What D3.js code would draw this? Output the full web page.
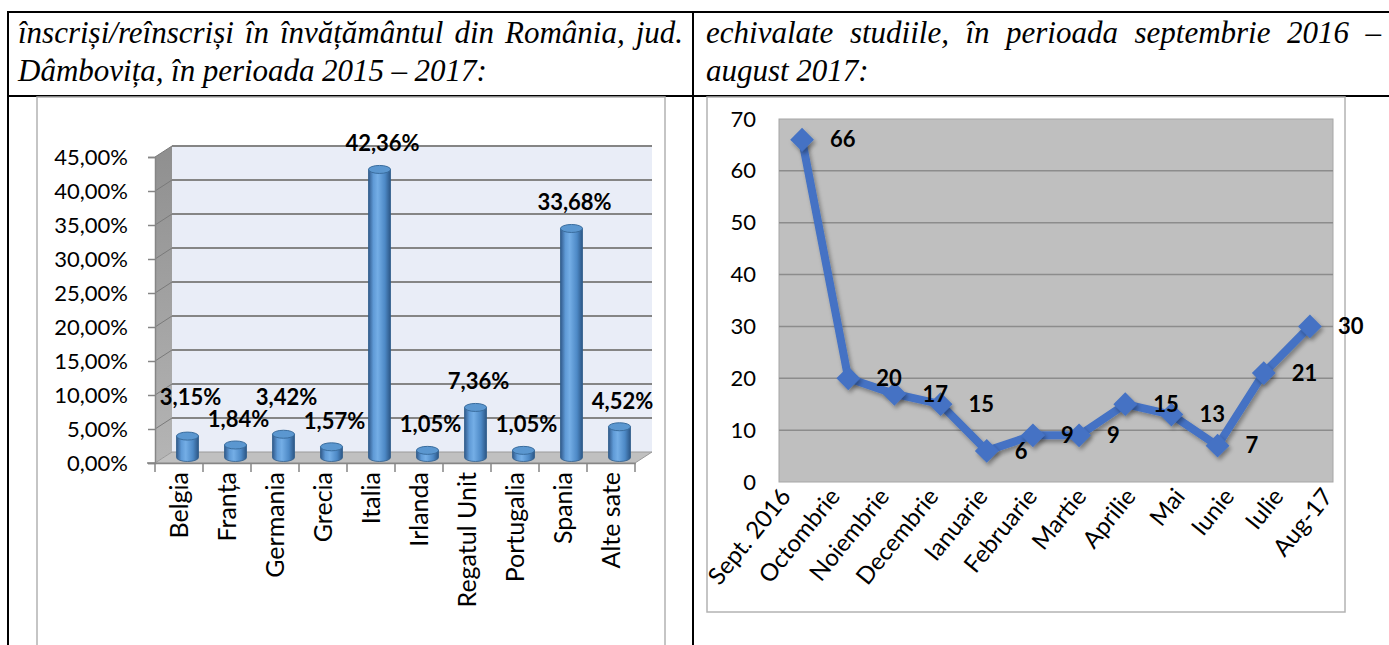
<!DOCTYPE html>
<html>
<head>
<meta charset="utf-8">
<script src="https://cdn.jsdelivr.net/npm/d3@7"></script>
<style>
  body { margin: 0; background: #fff; }
  svg { display: block; }
</style>
</head>
<body>
<svg id="page" width="1389" height="645"></svg>
<script>
// header text of the two table cells (line by line)
let headerLeft = ["înscriși/reînscriși în învățământul din România, jud.", "Dâmbovița, în perioada 2015 – 2017:"];
let headerRight = ["echivalate studiile, în perioada septembrie 2016 –", "august 2017:"];

// left chart: share by country
let countries = ["Belgia", "Franța", "Germania", "Grecia", "Italia", "Irlanda", "Regatul Unit", "Portugalia", "Spania", "Alte sate"];
let shares = [3.15, 1.84, 3.42, 1.57, 42.36, 1.05, 7.36, 1.05, 33.68, 4.52];
let shareTicks = [0, 5, 10, 15, 20, 25, 30, 35, 40, 45];

// right chart: counts by month
let months = ["Sept. 2016", "Octombrie", "Noiembrie", "Decembrie", "Ianuarie", "Februarie", "Martie", "Aprilie", "Mai", "Iunie", "Iulie", "Aug-17"];
let counts = [66, 20, 17, 15, 6, 9, 9, 15, 13, 7, 21, 30];
let countTicks = [0, 10, 20, 30, 40, 50, 60, 70];

let ro = d3.formatLocale({decimal: ",", thousands: ".", grouping: [3], currency: ["", " lei"]});
let pct = function(v) { return ro.format(".2f")(v) + "%"; };

let svg = d3.select("#page");
let chartFont = "Lato, 'Open Sans', sans-serif";

// ---- table borders ----
let table = svg.append("g").attr("stroke", "#000").attr("stroke-width", 2);
table.append("line").attr("x1", 7).attr("x2", 1389).attr("y1", 12).attr("y2", 12);
table.append("line").attr("x1", 7).attr("x2", 1389).attr("y1", 96).attr("y2", 96);
table.append("line").attr("x1", 8).attr("x2", 8).attr("y1", 11).attr("y2", 645);
table.append("line").attr("x1", 693).attr("x2", 693).attr("y1", 11).attr("y2", 645);

// justified header lines
function writeLine(text, x0, x1, y, justify) {
  let words = text.split(" ");
  let g = svg.append("g")
    .attr("font-family", "'Liberation Serif', 'Times New Roman', serif")
    .attr("font-style", "italic")
    .attr("font-size", 31);
  let nodes = words.map(function(w) { return g.append("text").attr("y", y).text(w); });
  let widths = nodes.map(function(n) { return n.node().getComputedTextLength(); });
  let total = d3.sum(widths);
  let gap = justify ? (x1 - x0 - total) / (words.length - 1) : 7.5;
  let x = x0;
  nodes.forEach(function(n, i) { n.attr("x", x); x += widths[i] + gap; });
}
writeLine(headerLeft[0], 18, 683, 43, true);
writeLine(headerLeft[1], 18, 683, 81, false);
writeLine(headerRight[0], 706, 1381, 43, true);
writeLine(headerRight[1], 706, 1381, 81, false);

// ---- chart frames ----
svg.append("path").attr("d", "M37,645V97H665V645").attr("fill", "none").attr("stroke", "#b3b3b3").attr("stroke-width", 1.5);
svg.append("rect").attr("x", 707).attr("y", 97).attr("width", 638).attr("height", 515)
  .attr("fill", "none").attr("stroke", "#b3b3b3").attr("stroke-width", 1.5);

let defs = svg.append("defs");
let cyl = defs.append("linearGradient").attr("id", "cyl");
[["0%", "#30598a"], ["22%", "#5f9ad6"], ["42%", "#74aee6"], ["75%", "#4d89c6"], ["100%", "#2c5685"]].forEach(function(s) {
  cyl.append("stop").attr("offset", s[0]).attr("stop-color", s[1]);
});
let sideG = defs.append("linearGradient").attr("id", "side").attr("x1", 0).attr("x2", 0).attr("y1", 0).attr("y2", 1);
sideG.append("stop").attr("offset", "0%").attr("stop-color", "#8f8f8f");
sideG.append("stop").attr("offset", "100%").attr("stop-color", "#b5b5b5");
let shadow = defs.append("filter").attr("id", "shadow").attr("x", "-50%").attr("y", "-50%").attr("width", "200%").attr("height", "200%");
shadow.append("feDropShadow").attr("dx", 2).attr("dy", 3).attr("stdDeviation", 2).attr("flood-color", "#000").attr("flood-opacity", 0.35);

// ---- left chart: 3D cylinders ----
(function() {
  let dx = 17, dy = -11;
  let x = d3.scaleBand().domain(countries).range([155, 635]);
  let y = d3.scaleLinear().domain([0, 45]).range([463, 157]);
  let g = svg.append("g");

  // back wall
  g.append("rect").attr("x", 155 + dx).attr("y", y(45) + dy).attr("width", 480).attr("height", y(0) - y(45))
    .attr("fill", "#e9edf7");
  // side wall
  g.append("path").attr("d", "M155," + y(45) + "L" + (155 + dx) + "," + (y(45) + dy) + "V" + (y(0) + dy) + "L155," + y(0) + "Z")
    .attr("fill", "url(#side)");
  // floor
  g.append("path").attr("d", "M155," + y(0) + "H635L" + (635 + dx) + "," + (y(0) + dy) + "H" + (155 + dx) + "Z")
    .attr("fill", "#c0c0c0").attr("stroke", "#9a9a9a");

  g.selectAll(".grid").data(shareTicks.slice(1)).enter().append("line")
    .attr("x1", 155 + dx).attr("x2", 635 + dx)
    .attr("y1", function(d) { return y(d) + dy; }).attr("y2", function(d) { return y(d) + dy; })
    .attr("stroke", "#858585").attr("stroke-width", 2);
  g.selectAll(".sgrid").data(shareTicks.slice(1)).enter().append("line")
    .attr("x1", 155).attr("x2", 155 + dx)
    .attr("y1", function(d) { return y(d); }).attr("y2", function(d) { return y(d) + dy; })
    .attr("stroke", "#7a7a7a").attr("stroke-width", 1);

  // axes
  let yAxis = g.append("g").attr("transform", "translate(155,0)")
    .call(d3.axisLeft(y).tickValues(shareTicks).tickFormat(pct).tickSize(7).tickPadding(20));
  let xAxis = g.append("g").attr("transform", "translate(0," + y(0) + ")")
    .call(d3.axisBottom(x).tickSize(0).tickFormat(""));
  [yAxis, xAxis].forEach(function(a) {
    a.select(".domain").attr("stroke", "#868686").attr("stroke-width", 1.5);
    a.selectAll(".tick line").attr("stroke", "#868686").attr("stroke-width", 1.5);
  });
  yAxis.selectAll("text").attr("font-family", chartFont).attr("font-size", 22).attr("fill", "#000");
  g.append("line").attr("x1", 147).attr("x2", 155).attr("y1", y(0)).attr("y2", y(0)).attr("stroke", "#868686").attr("stroke-width", 1.5);
  g.selectAll(".xt").data(countries.concat([null])).enter().append("line")
    .attr("x1", function(d, i) { return 155 + i * x.bandwidth(); })
    .attr("x2", function(d, i) { return 155 + i * x.bandwidth(); })
    .attr("y1", y(0)).attr("y2", y(0) + 9)
    .attr("stroke", "#868686").attr("stroke-width", 1.5);

  g.selectAll(".xl").data(countries).enter().append("text")
    .attr("transform", function(d) { return "translate(" + (x(d) + x.bandwidth() / 2 + 9) + "," + (y(0) + 9) + ") rotate(-90)"; })
    .attr("text-anchor", "end")
    .attr("font-family", chartFont).attr("font-size", 25)
    .text(function(d) { return d; });

  // cylinders
  let w = 22, ry = 4;
  let labels = [];
  countries.forEach(function(c, i) {
    let cx = x(c) + x.bandwidth() / 2 + dx / 2;
    let base = y(0) + dy / 2;
    let top = y(shares[i]) + dy / 2;
    let b = g.append("g");
    b.append("path")
      .attr("d", "M" + (cx - w / 2) + "," + top + "V" + base + "A" + (w / 2) + "," + ry + " 0 0 0 " + (cx + w / 2) + "," + base + "V" + top + "Z")
      .attr("fill", "url(#cyl)").attr("stroke", "#2f5d8c").attr("stroke-width", 0.8);
    b.append("ellipse").attr("cx", cx).attr("cy", top).attr("rx", w / 2).attr("ry", ry)
      .attr("fill", "#5b97d0").attr("stroke", "#3a6d9e").attr("stroke-width", 1);
    labels.push({text: pct(shares[i]), x: cx + 3, y: top - 18, v: shares[i]});
  });

  // labels: when two neighbours collide, lift the one of the taller bar
  let lt = g.selectAll(".lbl").data(labels).enter().append("text")
    .attr("x", function(d) { return d.x; }).attr("y", function(d) { return d.y; })
    .attr("text-anchor", "middle")
    .attr("font-family", chartFont).attr("font-weight", "bold").attr("font-size", 22)
    .text(function(d) { return d.text; });
  lt.each(function(d) { d.w = this.getComputedTextLength(); });
  for (let i = 1; i < labels.length; i++) {
    let a = labels[i - 1], b = labels[i];
    if (Math.abs(a.x - b.x) < (a.w + b.w) / 2 && Math.abs(a.y - b.y) < 20) {
      if (a.v > b.v) a.y = b.y - 22; else b.y = a.y - 22;
    }
  }
  lt.attr("y", function(d) { return d.y; });
})();

// ---- right chart: line ----
(function() {
  let x = d3.scaleBand().domain(months).range([779, 1333]);
  let y = d3.scaleLinear().domain([0, 70]).range([482, 119]);
  let cx = function(m) { return x(m) + x.bandwidth() / 2; };
  // category labels are spread a little wider than the plot in the original
  let lx = d3.scalePoint().domain(months).range([792, 1334]);
  let g = svg.append("g");

  g.append("rect").attr("x", 779).attr("y", y(70)).attr("width", 554).attr("height", y(0) - y(70))
    .attr("fill", "#bfbfbf").attr("stroke", "#a6a6a6").attr("stroke-width", 1);
  g.selectAll(".grid").data(countTicks.slice(1, -1)).enter().append("line")
    .attr("x1", 779).attr("x2", 1333)
    .attr("y1", function(d) { return y(d); }).attr("y2", function(d) { return y(d); })
    .attr("stroke", "#8c8c8c").attr("stroke-width", 1.5);

  let yAxis = g.append("g").attr("transform", "translate(779,0)")
    .call(d3.axisLeft(y).tickValues(countTicks).tickSize(0).tickPadding(23));
  yAxis.select(".domain").remove();
  yAxis.selectAll("text").attr("font-family", chartFont).attr("font-size", 22).attr("fill", "#000");

  g.selectAll(".xl").data(months).enter().append("text")
    .attr("transform", function(m) { return "translate(" + lx(m) + ",497) rotate(-51)"; })
    .attr("text-anchor", "end")
    .attr("font-family", chartFont).attr("font-size", 24)
    .text(function(m) { return m; });

  let line = d3.line().x(function(d, i) { return cx(months[i]); }).y(function(d) { return y(d); });
  g.append("path").datum(counts).attr("d", line)
    .attr("fill", "none").attr("stroke", "#4472c4").attr("stroke-width", 8).attr("stroke-linejoin", "round")
    .attr("filter", "url(#shadow)");
  g.selectAll(".mk").data(counts).enter().append("path")
    .attr("d", d3.symbol().type(d3.symbolDiamond2).size(360))
    .attr("transform", function(d, i) { return "translate(" + cx(months[i]) + "," + y(d) + ")"; })
    .attr("fill", "#4472c4").attr("filter", "url(#shadow)");
  g.selectAll(".lb").data(counts).enter().append("text")
    .attr("x", function(d, i) { return cx(months[i]) + 28; })
    .attr("y", function(d) { return y(d); })
    .attr("dy", "0.35em")
    .attr("font-family", chartFont).attr("font-weight", "bold").attr("font-size", 22)
    .text(function(d) { return d; });
})();
</script>
</body>
</html>
